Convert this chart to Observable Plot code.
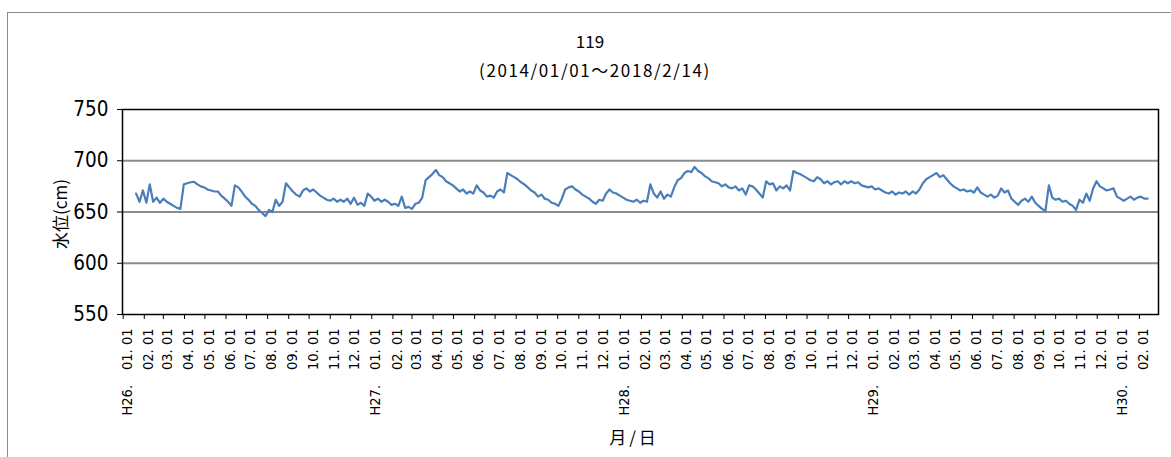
<!DOCTYPE html>
<html><head><meta charset="utf-8">
<script src="https://cdn.jsdelivr.net/npm/d3@7"></script>
<script src="https://cdn.jsdelivr.net/npm/@observablehq/plot@0.6"></script>
<style>
html,body{margin:0;padding:0;background:#fff;}
#wrap{position:relative;width:1171px;height:457px;overflow:hidden;background:#fff;}
#border{position:absolute;left:7px;top:12px;width:1200px;height:500px;border-left:1px solid #8c8c8c;border-top:1px solid #8c8c8c;box-sizing:border-box;}
#chart{position:absolute;left:0;top:0;}
.t{position:absolute;font-family:"Noto Sans CJK JP",sans-serif;color:#000;white-space:nowrap;line-height:1;transform:translate(-50%,-50%);}
</style></head><body>
<div id="wrap">
  <div id="border"></div>
  <div id="chart"></div>
  <div class="t" id="title" style="left:590px;top:40px;font-size:17px;">119</div>
  <div class="t" id="subtitle" style="left:595px;top:69px;font-size:17px;letter-spacing:1.6px;">(2014/01/01～2018/2/14)</div>
  <div class="t" id="ylabel" style="left:59px;top:214px;font-size:17px;transform:translate(-50%,-50%) rotate(-90deg);">水位(cm)</div>
  <div class="t" id="xlabel" style="left:634px;top:436px;font-size:17px;letter-spacing:3px;">月/日</div>
</div>
<script>
// Water level series (cm), one reading every 5 days starting 2014-01-20
const startDate = [2014, 0, 20];
const stepDays = 5;
const levels = [
  668,660,671,659,677,660,664,659,663,660,
  658,656,654,653,677,678,679,679.5,677,675,
  674,672,671,670,670,666,663,660,656,676,
  674,670,665,662,658,656,652,649,646,652,
  650,662,656,660,678,674,670,667,665,671,
  673,670,672,669,666,664,662,661,663,660,
  662,660,663,658,664,657,659,656,668,665,
  661,663,660,662,660,657,658,656,665,654,
  655,653,658,659,664,681,684,687,691,686,
  684,680,678,676,673,670,672,668,670,668,
  676,671,669,665,666,664,670,672,669,688,
  686,684,682,679,677,674,671,669,665,667,
  663,662,659,658,656,663,672,674,675,672,
  670,667,665,663,660,658,662,661,668,672,
  669,668,666,664,662,661,660,662,659,661,
  660,677,668,664,670,663,667,665,674,681,
  683,688,690,689,694,690,688,685,683,680,
  679,678,675,677,674,673,675,671,673,667,
  676,675,672,668,664,680,677,678,671,675,
  673,676,671,690,688,687,685,683,681,680,
  684,682,678,680,677,679,680,677,680,678,
  680,678,679,676,675,674,675,672,673,671,
  669,668,670,667,669,668,670,667,670,668,
  672,678,682,684,686,688,684,686,682,678,
  675,673,671,672,670,671,669,674,669,667,
  665,667,664,666,673,669,671,663,660,657,
  661,663,660,665,659,656,653,651,676,664,
  662,663,660,661,658,656,652,662,659,668,
  661,673,680,675,673,671,672,673,665,663,
  661,663,665,662,664,665,663,663
];
const yTicks = [550, 600, 650, 700, 750];
const gridValues = [600, 650, 700];
const eraYears = {2014: "H26", 2015: "H27", 2016: "H28", 2017: "H29", 2018: "H30"};
const xDomain = [new Date(Date.UTC(2013, 11, 31)), new Date(Date.UTC(2018, 2, 1))];
const monthTicks = d3.utcMonths(new Date(Date.UTC(2014, 0, 1)), new Date(Date.UTC(2018, 1, 2)));

const data = levels.map((v, i) => ({
  date: new Date(Date.UTC(startDate[0], startDate[1], startDate[2] + i * stepDays)),
  level: v
}));

const fmt = d => {
  const m = String(d.getUTCMonth() + 1).padStart(2, "0");
  return d.getUTCMonth() === 0 ? `${eraYears[d.getUTCFullYear()]}.\u3000${m}. 01` : `${m}. 01`;
};

const narrow = "'Liberation Sans Narrow', 'Arial Narrow', 'DejaVu Sans Condensed', 'Liberation Sans', sans-serif";

const chart = Plot.plot({
  width: 1171, height: 457,
  marginLeft: 122, marginRight: 13, marginTop: 109, marginBottom: 143,
  style: {fontFamily: narrow, color: "#000", background: "transparent", overflow: "visible"},
  x: {type: "utc", domain: xDomain},
  y: {domain: [550, 750]},
  marks: [
    Plot.ruleY(gridValues, {stroke: "#8c8c8c", strokeWidth: 2}),
    Plot.line(data, {x: "date", y: "level", stroke: "#4a7ebb", strokeWidth: 2.2}),
    Plot.frame({stroke: "#000", strokeWidth: 1.5}),
    Plot.axisY({ticks: yTicks, tickSize: 5, tickPadding: 9, fontSize: 20.5, label: null, tickFormat: d => String(d)}),
    Plot.axisX({ticks: monthTicks, tickSize: 5, tickFormat: () => "", label: null}),
    Plot.axisX({ticks: monthTicks, tickSize: 0, tickPadding: 14, tickRotate: -90, fontSize: 14.5, tickFormat: fmt, label: null, dx: 4})
  ]
});
document.getElementById("chart").appendChild(chart);
</script>
</body></html>
